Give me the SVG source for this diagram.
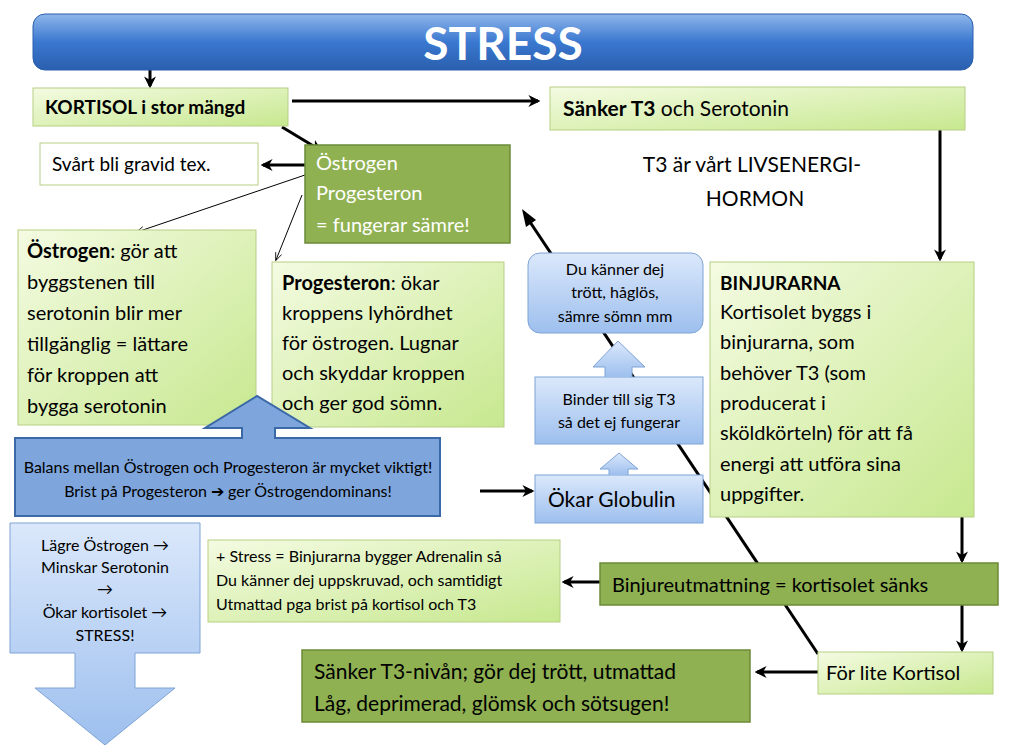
<svg xmlns="http://www.w3.org/2000/svg" width="1009" height="750" viewBox="0 0 1009 750">
<defs>
<linearGradient id="gTitle" x1="0" y1="0" x2="0" y2="1"><stop offset="0" stop-color="#8fb6ea"/><stop offset="0.5" stop-color="#3a78d0"/><stop offset="1" stop-color="#2a5fae"/></linearGradient>
<linearGradient id="gLG" x1="0" y1="0" x2="1" y2="1"><stop offset="0" stop-color="#f4fbe2"/><stop offset="1" stop-color="#c7e88f"/></linearGradient>
<linearGradient id="gLB" x1="0" y1="0" x2="0" y2="1"><stop offset="0" stop-color="#dbe8fb"/><stop offset="1" stop-color="#9dbfee"/></linearGradient>
<marker id="ah" viewBox="0 0 10 10" refX="8" refY="5" markerWidth="4" markerHeight="4" orient="auto"><path d="M0,0 L10,5 L0,10 L3,5 Z" fill="#000"/></marker>
<marker id="ahs" viewBox="0 0 10 10" refX="9" refY="5" markerWidth="8" markerHeight="8" orient="auto"><path d="M0,1 L10,5 L0,9" fill="none" stroke="#000" stroke-width="1"/></marker>
</defs>
<style>
text{font-family:Lato,"Open Sans","Liberation Sans",sans-serif;fill:#000}
.lg{fill:url(#gLG);stroke:#b5cf84;stroke-width:1}
.lb{fill:url(#gLB);stroke:#7fa3d6;stroke-width:1}
.dg{fill:#8fb152;stroke:#6c8a3a;stroke-width:1.5}
.c{stroke:#000;stroke-width:3;fill:none;marker-end:url(#ah)}
.t{stroke:#000;stroke-width:1;fill:none;marker-end:url(#ahs)}
.mid{text-anchor:middle}
</style>
<g id="connectors">
<path d="M818,654 L528,219" stroke="#000" stroke-width="3" fill="none"/>
<path d="M522,209 L536,220 L526,227 Z" fill="#000"/>
<path class="c" d="M150,50 V86"/>
<path class="c" d="M292,101 H538"/>
<path class="c" d="M940,130 V259"/>
<path class="c" d="M282,127 L320,150"/>
<path class="c" d="M305,165 H263"/>
<path class="t" d="M305,175 L137,232"/>
<path class="t" d="M302,195 L276,260"/>
<path class="c" d="M480,491 H532"/>
<path class="c" d="M962,517 V561"/>
<path class="c" d="M600,582 H564"/>
<path class="c" d="M962,605 V650"/>
<path class="c" d="M818,672 H757"/>
</g>
<g id="title"><rect x="33" y="14" width="940" height="56" rx="12" fill="url(#gTitle)" stroke="#2a5fae"/><text x="503" y="60" class="mid" font-size="46" font-weight="bold" style="fill:#fff">STRESS</text></g>
<g id="kortisol"><rect class="lg" x="33" y="88" width="255" height="38"/><text x="45" y="114" font-size="19" font-weight="bold">KORTISOL i stor mängd</text></g>
<g id="sanker"><rect class="lg" x="550" y="87" width="415" height="43"/><text x="563" y="116" font-size="21"><tspan font-weight="bold">Sänker T3</tspan> och Serotonin</text></g>
<g id="t3"><text x="752" y="172" class="mid" font-size="21">T3 är vårt LIVSENERGI-</text><text x="755" y="206" class="mid" font-size="21">HORMON</text></g>
<g id="ostrogenbox"><rect class="dg" x="305" y="145" width="205" height="98"/><text x="316" y="170" font-size="20" style="fill:#fff">Östrogen</text><text x="316" y="200" font-size="20" style="fill:#fff">Progesteron</text><text x="316" y="232" font-size="20" style="fill:#fff">= fungerar sämre!</text></g>
<g id="gravid"><rect x="40" y="143" width="218" height="42" fill="#fff" stroke="#b5cf84"/><text x="52" y="171" font-size="19">Svårt bli gravid tex.</text></g>
<g id="ostrogen"><rect class="lg" x="18" y="230" width="238" height="195"/><text x="27" y="258" font-size="20"><tspan font-weight="bold">Östrogen</tspan>: gör att</text><text x="27" y="289" font-size="20">byggstenen  till</text><text x="27" y="320" font-size="20">serotonin blir mer</text><text x="27" y="351" font-size="20">tillgänglig = lättare</text><text x="27" y="382" font-size="20">för kroppen att</text><text x="27" y="413" font-size="20">bygga serotonin</text></g>
<g id="progesteron"><rect class="lg" x="272" y="262" width="232" height="165"/><text x="282" y="290" font-size="20"><tspan font-weight="bold">Progesteron</tspan>: ökar</text><text x="282" y="320" font-size="20">kroppens lyhördhet</text><text x="282" y="350" font-size="20">för östrogen. Lugnar</text><text x="282" y="380" font-size="20">och skyddar kroppen</text><text x="282" y="410" font-size="20">och ger god sömn.</text></g>
<g id="balans"><path d="M15,438 H242 V428 H205 L257,396 L310,428 H275 V438 H440 V516 H15 Z" fill="#7ea6dc" stroke="#3b68a6" stroke-width="2"/><text x="228" y="473" class="mid" font-size="16">Balans mellan Östrogen och Progesteron är mycket viktigt!</text><text x="228" y="497" class="mid" font-size="16">Brist på Progesteron ➔ ger Östrogendominans!</text></g>
<g id="globulin"><rect class="lb" x="535" y="475" width="168" height="48"/><text x="548" y="507" font-size="21">Ökar Globulin</text><path d="M609,475 V469 H600 L619,453 L638,469 H628 V475" class="lb"/></g>
<g id="binder"><rect class="lb" x="535" y="377" width="168" height="67"/><text x="619" y="405" class="mid" font-size="16">Binder till sig T3</text><text x="619" y="428" class="mid" font-size="16">så det ej fungerar</text><path d="M605,377 V367 H593 L618,341 L645,367 H632 V377" class="lb"/></g>
<g id="trott"><rect class="lb" x="528" y="253" width="175" height="80" rx="12"/><text x="615" y="275" class="mid" font-size="16">Du känner dej</text><text x="615" y="298" class="mid" font-size="16">trött, håglös,</text><text x="615" y="322" class="mid" font-size="16">sämre sömn mm</text></g>
<g id="binjurarna"><rect class="lg" x="710" y="262" width="264" height="255"/><text x="720" y="290" font-size="19" font-weight="bold">BINJURARNA</text><text x="720" y="319" font-size="20">Kortisolet byggs i</text><text x="720" y="349" font-size="20">binjurarna, som</text><text x="720" y="380" font-size="20">behöver T3 (som</text><text x="720" y="410" font-size="20">producerat i</text><text x="720" y="440" font-size="20">sköldkörteln) för att få</text><text x="720" y="471" font-size="20">energi att utföra sina</text><text x="720" y="501" font-size="20">uppgifter.</text></g>
<g id="utmattning"><rect class="dg" x="600" y="563" width="398" height="42"/><text x="612" y="592" font-size="20">Binjureutmattning = kortisolet sänks</text></g>
<g id="adrenalin"><rect class="lg" x="208" y="540" width="352" height="82"/><text x="216" y="562" font-size="16">+ Stress = Binjurarna bygger Adrenalin så</text><text x="216" y="586" font-size="16">Du känner dej uppskruvad, och samtidigt</text><text x="216" y="610" font-size="16">Utmattad pga brist på kortisol och T3</text></g>
<g id="lagre"><path d="M10,523 H200 V653 H135 V688 H175 L105,745 L35,688 H75 V653 H10 Z" class="lb"/><text x="105" y="551" class="mid" font-size="16">Lägre Östrogen →</text><text x="105" y="573" class="mid" font-size="16">Minskar Serotonin</text><text x="105" y="595" class="mid" font-size="16">→</text><text x="105" y="618" class="mid" font-size="16">Ökar kortisolet →</text><text x="105" y="641" class="mid" font-size="16">STRESS!</text></g>
<g id="forlite"><rect class="lg" x="818" y="652" width="175" height="42"/><text x="826" y="680" font-size="20">För lite Kortisol</text></g>
<g id="sankertrott"><rect class="dg" x="302" y="650" width="448" height="72"/><text x="314" y="679" font-size="21">Sänker T3-nivån; gör dej trött, utmattad</text><text x="314" y="711" font-size="21">Låg, deprimerad, glömsk och sötsugen!</text></g>
</svg>
